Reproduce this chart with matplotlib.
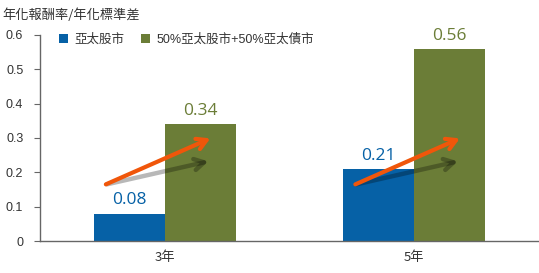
import matplotlib
matplotlib.use("Agg")
import matplotlib.pyplot as plt
import numpy as np

plt.rcParams['font.family'] = ['Liberation Sans', 'Noto Sans CJK TC', 'DejaVu Sans']

categories = ['3年', '5年']
series_names = ['亞太股市', '50%亞太股市+50%亞太債市']
asia_equity = [0.08, 0.21]
mixed = [0.34, 0.56]
y_ticks = [0, 0.1, 0.2, 0.3, 0.4, 0.5, 0.6]
y_tick_labels = ['0', '0.1', '0.2', '0.3', '0.4', '0.5', '0.6']
y_title = '年化報酬率/年化標準差'

blue = '#0661a6'
green = '#6b7d37'
orange = '#f0560a'

fig = plt.figure(figsize=(5.39, 2.73), dpi=100)
ax = fig.add_axes([40/539, 32/273, 499/539, 206/273])

x = np.arange(len(categories))
w = 0.285
b1 = ax.bar(x - w/2, asia_equity, w, color=blue, label=series_names[0], zorder=2)
b2 = ax.bar(x + w/2, mixed, w, color=green, label=series_names[1], zorder=2)

for xi, v in zip(x - w/2, asia_equity):
    ax.text(xi, v + 0.015, f'{v:.2f}', ha='center', va='bottom', color=blue,
            fontsize=12.5, family=['Open Sans', 'DejaVu Sans'])
for xi, v in zip(x + w/2, mixed):
    ax.text(xi, v + 0.015, f'{v:.2f}', ha='center', va='bottom', color=green,
            fontsize=12.5, family=['Open Sans', 'DejaVu Sans'])

# decorative arrows (relative to each category)
for xi in x:
    ax.annotate('', xy=(xi + 0.175, 0.232), xytext=(xi - 0.232, 0.165),
                arrowprops=dict(arrowstyle='->,head_length=0.7,head_width=0.4',
                                color='black', alpha=0.28, lw=3.2,
                                shrinkA=0, shrinkB=0), zorder=3)
    ax.annotate('', xy=(xi + 0.183, 0.299), xytext=(xi - 0.236, 0.165),
                arrowprops=dict(arrowstyle='->,head_length=0.7,head_width=0.4',
                                color=orange, lw=3.0,
                                shrinkA=0, shrinkB=0), zorder=4)

ax.set_xlim(-0.5, 1.5)
ax.set_ylim(0, 0.6)
ax.set_yticks(y_ticks)
ax.set_yticklabels(y_tick_labels)
ax.set_xticks(x)
ax.set_xticklabels(categories, family=['Noto Sans CJK TC'], fontsize=9.5, color='#333333')
ax.tick_params(axis='x', length=0, pad=7)
ax.tick_params(axis='y', length=4, width=0.8, color='#666666', labelsize=9,
               labelcolor='#333333', pad=8)
for s in ['top', 'right']:
    ax.spines[s].set_visible(False)
for s in ['left', 'bottom']:
    ax.spines[s].set_color('#666666')
    ax.spines[s].set_linewidth(1.0)

fig.text(2/539, 1 - 15/273, y_title, ha='left', va='center', fontsize=9.5,
         family=['Noto Sans CJK TC'], color='#333333')

leg = ax.legend(loc='upper left', bbox_to_anchor=(54/539, 1 - 29/273), bbox_transform=fig.transFigure,
                ncol=2, frameon=False, handlelength=0.75, handleheight=0.75,
                handletextpad=0.5, columnspacing=1.3, borderaxespad=0,
                prop={'family': ['Liberation Sans', 'Noto Sans CJK TC'], 'size': 9})
for t in leg.get_texts():
    t.set_color('#333333')

fig.savefig('out.png', dpi=100)
